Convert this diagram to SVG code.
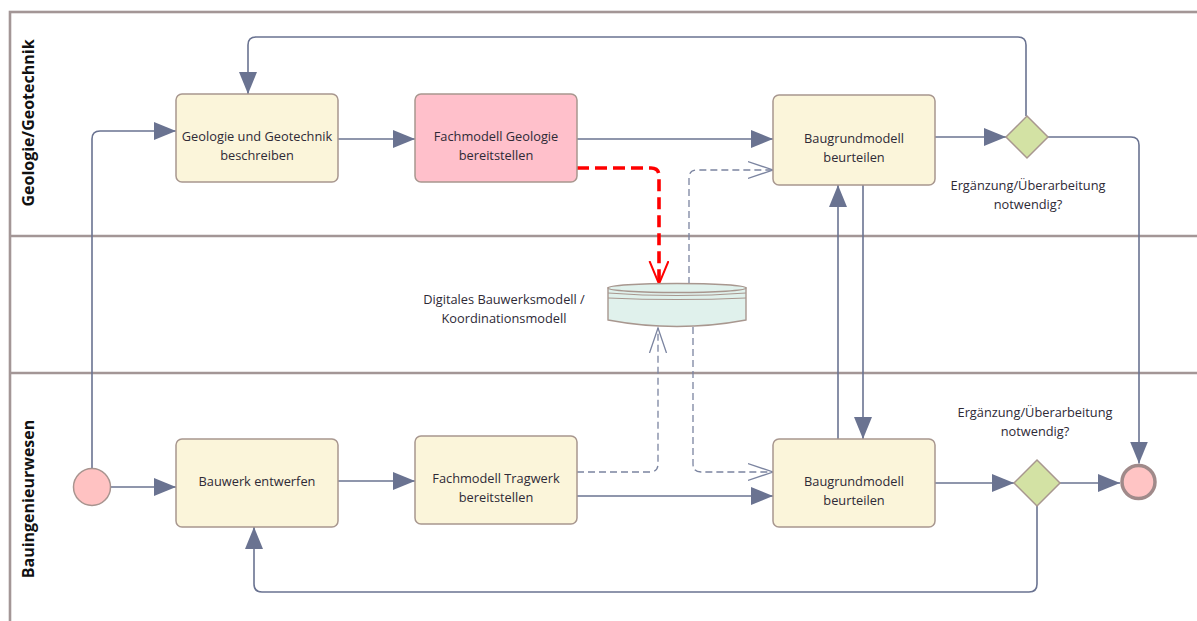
<svg xmlns="http://www.w3.org/2000/svg" width="1197" height="621" viewBox="0 0 1197 621">
  <style>
    .lane { fill: none; stroke: #a39696; stroke-width: 2.6; }
    .task { stroke: #a8978f; stroke-width: 1.5; }
    .task-y { fill: #fbf5da; }
    .task-p { fill: #ffc0cb; }
    .lbl { font-family: "Open Sans", "Noto Sans", sans-serif; font-size: 12.8px; fill: #2e2a36; text-anchor: middle; }
    .lane-lbl { font-family: "Open Sans", "Noto Sans", sans-serif; font-size: 16px; font-weight: bold; fill: #111; text-anchor: middle; }
    .flow { fill: none; stroke: #6a7391; stroke-width: 1.6; }
    .assoc { fill: none; stroke: #7b84a0; stroke-width: 1.3; stroke-dasharray: 7 4; }
    .red { fill: none; stroke: #ff0000; stroke-width: 3.6; stroke-dasharray: 12 6; }
    .gw { fill: #d3e2a4; stroke: #a8978f; stroke-width: 1.5; }
  </style>
  <defs>
    <marker id="arrow" markerUnits="userSpaceOnUse" markerWidth="24" markerHeight="20" refX="22" refY="9" orient="auto">
      <path d="M0,0 L22,9 L0,18 z" fill="#6a7391"/>
    </marker>
    <marker id="open" markerUnits="userSpaceOnUse" markerWidth="28" markerHeight="22" refX="25" refY="10" orient="auto">
      <path d="M0,1.5 L25,10 L0,18.5" fill="none" stroke="#7b84a0" stroke-width="1.3"/>
    </marker>
    <marker id="open-red" markerUnits="userSpaceOnUse" markerWidth="26" markerHeight="22" refX="23" refY="10" orient="auto">
      <path d="M0,0.5 L23,10 L0,19.5" fill="none" stroke="#ff0000" stroke-width="2"/>
    </marker>
  </defs>

  <rect width="1197" height="621" fill="#ffffff"/>

  <!-- pool and lanes -->
  <g id="pool">
    <rect class="lane" x="10" y="12" width="1200" height="640"/>
    <line class="lane" x1="10" y1="236" x2="1210" y2="236"/>
    <line class="lane" x1="10" y1="373" x2="1210" y2="373"/>
    <text class="lane-lbl" transform="translate(34,123) rotate(-90)">Geologie/Geotechnik</text>
    <text class="lane-lbl" transform="translate(34,499) rotate(-90)">Bauingenieurwesen</text>
  </g>

  <!-- connectors -->
  <g id="connectors">
    <path class="flow" d="M110.5,487 L176,487" marker-end="url(#arrow)"/>
    <path class="flow" d="M92,468.5 L92,139 Q92,131 100,131 L176,131" marker-end="url(#arrow)"/>
    <path class="flow" d="M338,139 L415,139" marker-end="url(#arrow)"/>
    <path class="flow" d="M577,139 L773,139" marker-end="url(#arrow)"/>
    <path class="flow" d="M935,137 L1006,137" marker-end="url(#arrow)"/>
    <path class="flow" d="M1026,116 L1026,45 Q1026,37 1018,37 L256,37 Q248,37 248,45 L248,94" marker-end="url(#arrow)"/>
    <path class="flow" d="M1048,137 L1131,137 Q1139,137 1139,145 L1139,463.5" marker-end="url(#arrow)"/>
    <path class="flow" d="M863,185 L863,439" marker-end="url(#arrow)"/>
    <path class="flow" d="M838,439 L838,185" marker-end="url(#arrow)"/>
    <path class="flow" d="M338,481 L415,481" marker-end="url(#arrow)"/>
    <path class="flow" d="M577,496 L773,496" marker-end="url(#arrow)"/>
    <path class="flow" d="M935,483 L1014,483" marker-end="url(#arrow)"/>
    <path class="flow" d="M1060,483 L1120,483" marker-end="url(#arrow)"/>
    <path class="flow" d="M1037,506 L1037,584 Q1037,592 1029,592 L262,592 Q254,592 254,584 L254,527" marker-end="url(#arrow)"/>

    <path class="assoc" d="M577,472 L650,472 Q658,472 658,464 L658,328" marker-end="url(#open)"/>
    <path class="assoc" d="M693,327 L693,464 Q693,472 701,472 L773,472" marker-end="url(#open)"/>
    <path class="assoc" d="M689,284 L689,178 Q689,170 697,170 L773,170" marker-end="url(#open)"/>
    <path class="red" d="M577,168 L651,168 Q659,168 659,176 L659,284" marker-end="url(#open-red)"/>
  </g>

  <!-- events -->
  <g id="start">
    <circle cx="92" cy="487" r="18.5" fill="#ffc2c2" stroke="#a8948f" stroke-width="1.5"/>
  </g>
  <g id="end">
    <circle cx="1138.5" cy="482" r="16.5" fill="#ffc4c4" stroke="#a08a8a" stroke-width="3.5"/>
  </g>

  <!-- tasks -->
  <g id="geologie-beschreiben">
    <rect class="task task-y" x="176" y="94" width="162" height="88" rx="6"/>
    <text class="lbl" x="257" y="140.5">Geologie und Geotechnik</text>
    <text class="lbl" x="257" y="160">beschreiben</text>
  </g>
  <g id="fachmodell-geologie">
    <rect class="task task-p" x="415" y="94" width="162" height="88" rx="6"/>
    <text class="lbl" x="496" y="140.5">Fachmodell Geologie</text>
    <text class="lbl" x="496" y="160">bereitstellen</text>
  </g>
  <g id="baugrund-geo">
    <rect class="task task-y" x="773" y="95" width="162" height="90" rx="6"/>
    <text class="lbl" x="854" y="142.5">Baugrundmodell</text>
    <text class="lbl" x="854" y="161.5">beurteilen</text>
  </g>
  <g id="bauwerk-entwerfen">
    <rect class="task task-y" x="176" y="439" width="162" height="88" rx="6"/>
    <text class="lbl" x="257" y="485.5">Bauwerk entwerfen</text>
  </g>
  <g id="fachmodell-tragwerk">
    <rect class="task task-y" x="415" y="436" width="162" height="88" rx="6"/>
    <text class="lbl" x="496" y="482.5">Fachmodell Tragwerk</text>
    <text class="lbl" x="496" y="501.5">bereitstellen</text>
  </g>
  <g id="baugrund-bau">
    <rect class="task task-y" x="773" y="439" width="162" height="88" rx="6"/>
    <text class="lbl" x="854" y="485.5">Baugrundmodell</text>
    <text class="lbl" x="854" y="504.5">beurteilen</text>
  </g>

  <!-- gateways -->
  <g id="gateway-geo">
    <polygon class="gw" points="1027,116 1048,137 1027,158 1006,137"/>
    <text class="lbl" x="1028" y="190">Ergänzung/Überarbeitung</text>
    <text class="lbl" x="1028" y="209">notwendig?</text>
  </g>
  <g id="gateway-bau">
    <polygon class="gw" points="1037,460 1060,483 1037,506 1014,483"/>
    <text class="lbl" x="1035" y="417">Ergänzung/Überarbeitung</text>
    <text class="lbl" x="1035" y="436">notwendig?</text>
  </g>

  <!-- data store -->
  <g id="datenspeicher">
    <path d="M608,288 L608,320 Q677,333 746,320 L746,288 Z" fill="#e0f1ec" stroke="#a8978f" stroke-width="1.4"/>
    <ellipse cx="677" cy="288" rx="69" ry="4.5" fill="#e0f1ec" stroke="#a8978f" stroke-width="1.4"/>
    <path d="M608,293 Q677,298 746,293" fill="none" stroke="#a8978f" stroke-width="1.2"/>
    <path d="M608,298 Q677,301 746,298" fill="none" stroke="#a8978f" stroke-width="1.2"/>
    <text class="lbl" x="504" y="303.5">Digitales Bauwerksmodell /</text>
    <text class="lbl" x="504" y="322.5">Koordinationsmodell</text>
  </g>
</svg>
